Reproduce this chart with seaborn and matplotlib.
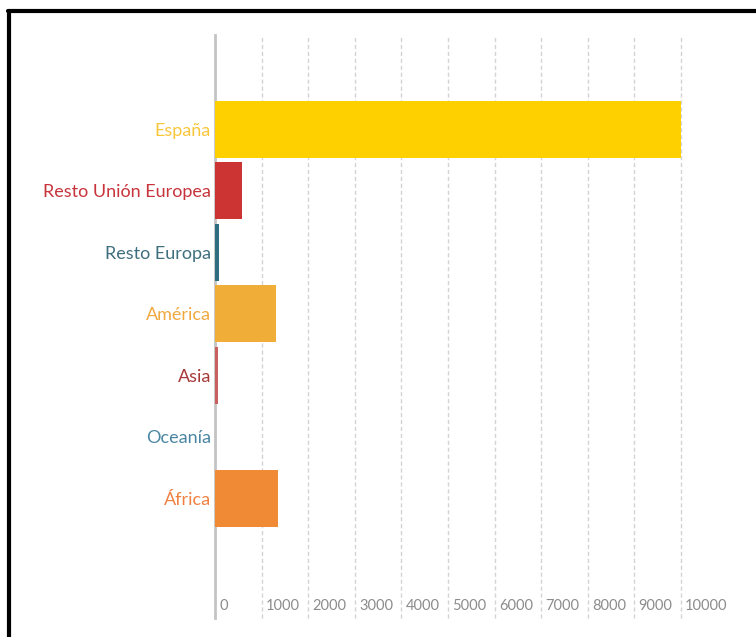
import matplotlib
matplotlib.use("Agg")
import matplotlib.pyplot as plt
import matplotlib.transforms as mtransforms
from matplotlib.lines import Line2D
import pandas as pd
import seaborn as sns

# datos
regiones = ["España", "Resto Unión Europea", "Resto Europa", "América",
            "Asia", "Oceanía", "África"]
valores = [10000, 580, 90, 1310, 60, 0, 1350]
colores_barra = ["#FFD000", "#CC3333", "#2E6E80", "#F0AE38",
                 "#C86060", "#4A85A0", "#F08A35"]
colores_texto = ["#F8C63A", "#C8343C", "#3F6F7F", "#F0A840",
                 "#A83838", "#4A86A2", "#F08040"]
ticks_x = [0, 1000, 2000, 3000, 4000, 5000, 6000, 7000, 8000, 9000, 10000]


def main():
    df = pd.DataFrame({"region": regiones, "valor": valores})

    sns.set_style("white")
    plt.rcParams["font.family"] = ["Lato", "DejaVu Sans"]

    fig = plt.figure(figsize=(7.56, 6.37), dpi=100)
    ax = fig.add_axes([0.2844, 0.0298, 0.6164, 0.9152])

    sns.barplot(data=df, x="valor", y="region", hue="region",
                palette=dict(zip(regiones, colores_barra)), legend=False,
                orient="h", width=0.93, saturation=1, ax=ax, zorder=3,
                linewidth=0)

    ax.set_xlim(0, 10000)
    ax.set_ylim(7.95, -1.53)
    ax.set_xlabel("")
    ax.set_ylabel("")

    ax.set_xticks(ticks_x)
    ax.set_xticklabels([str(t) for t in ticks_x])
    ax.grid(axis="x", color="#d4d4d4", linestyle=(0, (3, 2)), linewidth=1, zorder=0)
    ax.grid(axis="y", visible=False)
    for g in ax.get_xgridlines():
        g.set_clip_on(False)

    for s in ["top", "right", "bottom"]:
        ax.spines[s].set_visible(False)
    ax.spines["left"].set_color("#c4c4c4")
    ax.spines["left"].set_linewidth(2)
    ax.spines["left"].set_zorder(2)

    ax.tick_params(axis="x", length=0, direction="in", pad=-14,
                   labelsize=10.5, labelcolor="#8c8c8c")
    ax.tick_params(axis="y", length=0, pad=3, labelsize=13)

    desplaza = mtransforms.ScaledTranslation(3 / 72, 0, fig.dpi_scale_trans)
    for lbl in ax.get_xticklabels():
        lbl.set_horizontalalignment("left")
        lbl.set_transform(lbl.get_transform() + desplaza)

    for lbl, c in zip(ax.get_yticklabels(), colores_texto):
        lbl.set_color(c)

    # marco negro arriba y a la izquierda
    fig.add_artist(Line2D([0.012, 0.012], [0.0, 0.983], color="black",
                          linewidth=3, transform=fig.transFigure))
    fig.add_artist(Line2D([0.010, 1.0], [0.983, 0.983], color="black",
                          linewidth=3, transform=fig.transFigure))

    fig.savefig("out.png", dpi=100)


if __name__ == "__main__":
    main()
